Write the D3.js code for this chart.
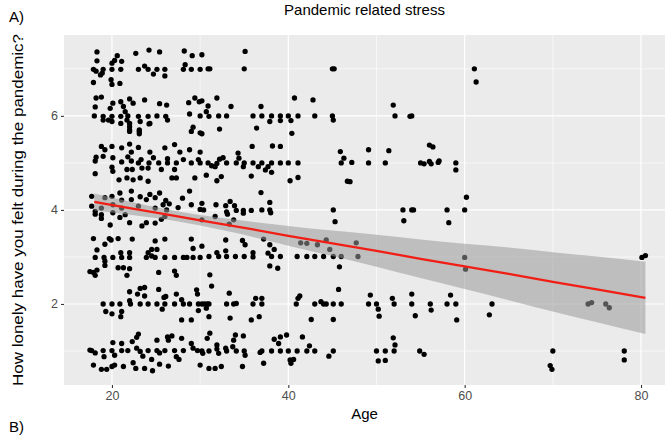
<!DOCTYPE html>
<html>
<head>
<meta charset="utf-8">
<script src="https://cdn.jsdelivr.net/npm/d3@7"></script>
<style>
  html, body { margin: 0; padding: 0; background: #fff; }
  svg { display: block; font-family: "Liberation Sans", Arial, sans-serif; }
</style>
</head>
<body>
<svg id="chart" width="667" height="436"></svg>
<script>
// Responses to "How lonely have you felt during the pandemic?" by age (jittered), grouped by answer level
const level7 = [[18.3,7.36],[18.3,7.17],[17.9,6.99],[18.2,6.95],[19.0,6.99],[18.9,6.91],[18.7,6.87],[20.0,6.99],[20.0,7.12],[20.3,7.18],[20.6,7.28],[21.1,7.16],[21.0,6.99],[19.9,6.77],[17.9,6.71],[20.9,6.69],[20.0,6.67],[22.7,7.33],[24.2,7.40],[25.4,7.36],[23.0,6.99],[23.7,7.06],[24.1,6.99],[24.7,6.89],[25.1,6.99],[26.0,6.99],[26.0,6.85],[28.2,7.38],[29.1,7.28],[30.2,7.30],[28.3,7.09],[28.1,6.99],[29.0,6.99],[30.0,6.99],[30.9,7.0],[31.1,7.0],[35.1,7.37],[35.0,7.0],[45.0,7.0],[45.2,7.0],[61.1,7.0],[61.3,6.72]];
const level6 = [[18.2,6.38],[18.8,6.40],[18.1,6.19],[18.0,6.0],[19.0,5.99],[19.0,5.91],[20.0,5.99],[20.0,5.88],[20.1,6.27],[19.8,6.16],[21.0,6.30],[21.3,6.20],[21.5,6.09],[22.0,6.36],[22.4,6.27],[21.0,5.99],[21.8,6.0],[22.0,5.84],[23.0,5.99],[23.2,5.88],[23.7,6.34],[24.1,5.99],[24.3,5.84],[25.4,6.26],[26.2,6.23],[25.1,6.0],[26.1,5.99],[26.3,5.91],[28.7,6.28],[29.4,6.38],[29.9,6.30],[28.8,6.04],[30.0,6.0],[29.2,5.76],[19.6,5.91],[22.0,5.70],[23.1,5.70],[23.1,5.62],[24.2,5.83],[21.0,5.84],[21.7,5.91],[22.0,5.77],[30.2,6.32],[30.9,6.21],[30.7,6.09],[31.0,5.99],[31.9,6.38],[32.1,6.0],[33.0,6.0],[33.5,6.20],[32.2,5.72],[30.2,5.62],[36.0,6.0],[36.9,6.20],[37.0,6.0],[36.4,5.74],[37.9,5.88],[38.1,6.0],[39.1,6.0],[39.1,5.90],[40.0,6.0],[40.3,5.90],[40.7,6.38],[41.1,6.0],[40.4,5.63],[42.8,6.34],[43.0,6.0],[45.0,6.0],[45.1,5.91],[51.9,6.23],[52.1,6.0],[53.8,5.99],[54.0,6.0],[22.0,5.67],[23.1,5.67],[29.0,5.67],[30.0,5.64]];
const level5 = [[18.8,5.35],[19.2,5.28],[20.0,5.35],[21.1,5.32],[22.0,5.40],[23.0,5.33],[22.2,5.23],[24.3,5.23],[26.0,5.32],[27.1,5.39],[27.7,5.23],[28.8,5.28],[30.0,5.23],[18.2,5.12],[18.1,5.04],[19.0,5.14],[20.1,5.11],[21.1,5.02],[21.8,5.13],[22.2,5.04],[23.0,5.0],[23.3,5.07],[24.2,5.0],[24.7,5.11],[25.3,5.0],[26.3,5.09],[26.3,5.0],[27.3,5.0],[28.1,5.07],[29.0,5.0],[29.8,5.07],[30.0,5.0],[20.0,4.91],[20.1,4.82],[21.7,4.86],[22.3,4.86],[23.4,4.89],[24.1,4.89],[25.6,4.86],[27.1,4.86],[18.1,4.77],[20.8,4.64],[21.7,4.68],[22.4,4.64],[23.2,4.68],[24.1,4.61],[26.8,4.68],[27.3,4.68],[29.4,4.68],[30.9,5.0],[31.3,4.94],[31.7,4.92],[31.9,4.99],[32.2,5.08],[32.6,5.11],[33.0,5.0],[34.1,5.0],[34.3,5.21],[34.4,5.10],[35.0,5.0],[34.9,4.92],[36.0,5.0],[36.6,4.92],[37.0,5.0],[37.4,4.85],[37.7,4.92],[38.1,5.0],[38.1,4.80],[38.2,5.36],[39.1,5.35],[39.1,5.0],[40.0,5.0],[41.1,5.0],[40.2,4.62],[41.1,4.69],[35.8,4.72],[35.9,5.35],[45.9,5.24],[46.3,5.10],[46.0,5.0],[47.2,5.01],[46.7,4.61],[30.7,4.74],[31.9,4.62],[32.4,4.71],[49.1,5.28],[49.1,5.0],[51.4,5.26],[51.0,5.0],[55.0,5.0],[55.4,4.98],[56.0,5.38],[56.4,5.34],[56.0,5.03],[56.2,4.98],[57.0,5.01],[57.1,5.04],[59.0,5.0],[59.0,4.85],[47.0,4.60]];
const level4 = [[17.7,4.29],[17.7,4.08],[18.1,3.97],[18.8,4.04],[19.2,4.26],[20.0,4.29],[20.1,4.11],[20.9,4.36],[21.1,4.04],[22.2,4.40],[22.2,4.22],[23.0,4.08],[23.9,4.22],[24.3,4.33],[24.9,4.26],[24.9,4.04],[25.4,4.36],[26.1,4.20],[26.5,4.13],[28.8,4.40],[29.0,4.11],[30.0,4.01],[18.8,3.90],[20.1,3.94],[21.5,3.90],[18.1,3.91],[18.8,3.82],[19.8,3.68],[22.0,3.73],[23.4,3.66],[23.9,3.73],[24.9,3.72],[26.0,3.86],[21.1,4.21],[23.2,4.28],[25.8,4.11],[26.2,4.0],[27.5,4.05],[28.0,4.25],[30.2,4.14],[30.4,4.0],[31.8,4.11],[31.7,3.86],[33.0,3.96],[33.1,3.91],[33.4,4.18],[33.9,4.09],[34.1,3.99],[34.9,3.99],[34.9,3.93],[35.8,3.99],[37.0,4.0],[37.9,4.0],[37.9,4.16],[38.0,3.94],[36.9,4.37],[33.8,3.79],[33.3,3.70],[45.1,4.0],[45.3,3.75],[30.2,3.79],[53.0,4.0],[54.0,4.0],[54.2,4.0],[53.1,3.77],[58.0,4.0],[58.2,3.73],[60.0,4.0],[60.2,4.27],[25.6,3.80],[20.9,3.84],[32.9,4.09]];
const level3 = [[17.9,3.39],[19.7,3.39],[19.9,3.36],[19.2,3.27],[20.7,3.39],[22.3,3.38],[18.3,3.15],[18.1,2.99],[19.1,2.99],[19.2,2.91],[20.1,2.99],[21.0,3.09],[21.1,2.99],[22.0,3.09],[22.0,2.99],[24.1,3.09],[23.9,2.99],[24.5,3.02],[24.9,2.99],[24.5,3.16],[24.9,3.34],[25.1,3.16],[26.0,3.38],[26.0,2.99],[27.1,2.99],[28.1,2.99],[28.5,2.99],[29.0,3.38],[29.2,3.18],[29.2,2.99],[30.0,2.99],[30.2,3.23],[17.9,2.67],[18.1,2.61],[18.3,2.72],[19.2,2.82],[20.7,2.77],[21.3,2.77],[22.0,2.75],[21.7,2.61],[25.3,2.67],[27.1,2.70],[27.3,2.61],[17.5,2.69],[31.0,3.01],[31.9,3.09],[32.1,3.01],[32.9,3.36],[32.9,3.13],[33.0,3.01],[34.0,3.01],[34.8,3.35],[35.1,3.26],[35.0,3.01],[36.0,3.09],[36.0,3.0],[37.2,3.38],[37.7,3.08],[37.9,3.26],[38.1,3.01],[38.4,3.16],[39.1,3.01],[37.9,2.81],[38.8,2.76],[41.0,3.01],[41.4,3.30],[42.1,3.29],[42.1,3.01],[43.0,3.01],[43.3,3.26],[44.0,3.01],[44.3,3.36],[44.7,3.16],[45.1,3.01],[45.8,2.79],[46.0,3.01],[47.7,3.30],[47.9,3.01],[31.1,2.62],[31.3,2.38],[60.0,2.99],[60.1,2.74],[80.1,2.99],[80.5,3.03]];
const level2 = [[22.0,2.26],[23.2,2.33],[23.7,2.35],[22.9,2.21],[23.7,2.17],[25.3,2.31],[26.1,2.16],[27.3,2.21],[29.6,2.30],[29.7,2.21],[19.0,2.0],[20.0,2.0],[20.0,1.79],[20.9,2.0],[21.1,1.84],[21.0,1.73],[22.0,2.07],[22.1,2.0],[23.2,2.0],[24.1,2.0],[25.1,2.0],[25.9,2.14],[26.0,2.0],[27.1,2.0],[27.9,2.09],[28.1,2.0],[27.9,1.66],[28.8,2.0],[29.8,2.0],[29.8,1.86],[30.5,2.0],[19.3,1.84],[25.7,1.89],[29.0,1.66],[30.2,2.0],[30.8,2.0],[31.0,2.0],[30.7,1.91],[31.0,1.73],[33.0,2.0],[33.3,2.23],[33.8,2.0],[34.1,2.01],[33.4,1.70],[36.0,2.0],[36.3,2.12],[37.0,2.12],[37.0,2.0],[35.8,1.66],[36.7,1.73],[40.9,2.0],[41.1,2.12],[41.3,2.17],[43.0,2.0],[43.7,2.05],[44.0,2.0],[44.3,2.0],[45.1,2.0],[46.0,2.0],[45.7,2.31],[42.6,1.67],[45.1,1.67],[49.1,2.0],[49.3,2.19],[50.0,2.0],[50.2,1.89],[50.3,1.74],[51.8,2.12],[52.0,2.0],[54.0,2.21],[54.0,2.0],[54.4,1.75],[56.1,2.0],[56.2,1.87],[58.0,2.0],[58.4,2.19],[59.0,2.0],[59.1,1.66],[62.8,1.77],[63.1,2.0],[74.0,2.0],[74.4,2.03],[76.0,2.0],[76.4,1.92]];
const level1 = [[17.7,1.01],[18.1,0.96],[19.0,1.01],[19.1,0.88],[20.1,1.18],[20.0,1.01],[20.3,0.91],[21.1,1.16],[21.1,1.01],[21.8,1.01],[22.3,1.20],[22.8,1.29],[23.0,1.36],[22.8,1.06],[23.2,0.99],[23.5,0.89],[24.1,1.01],[24.5,0.82],[25.1,1.23],[25.1,1.01],[25.4,0.96],[26.0,1.01],[26.3,1.30],[26.8,1.32],[26.4,1.23],[27.1,1.01],[27.3,0.88],[27.6,0.82],[27.9,1.27],[28.1,1.01],[29.0,1.16],[29.2,1.06],[29.7,1.01],[30.0,0.70],[17.9,0.70],[18.8,0.61],[19.4,0.61],[20.0,0.67],[20.3,0.70],[21.3,0.67],[22.4,0.75],[22.7,0.63],[23.7,0.63],[24.6,0.58],[25.4,0.72],[26.4,0.68],[17.5,1.02],[30.2,1.0],[30.3,0.95],[30.8,1.27],[31.1,1.38],[31.0,1.0],[31.0,0.63],[31.7,0.63],[31.9,1.13],[31.9,1.04],[32.1,0.95],[32.4,0.67],[32.9,1.06],[33.0,1.0],[33.8,1.23],[33.7,1.09],[34.0,1.34],[34.1,1.0],[34.9,1.32],[35.0,1.0],[35.1,0.91],[34.8,0.67],[36.8,0.97],[37.0,1.0],[37.2,0.74],[38.1,1.0],[38.4,1.25],[38.9,1.16],[39.1,1.30],[39.8,1.34],[39.1,1.0],[40.0,1.0],[40.2,0.81],[40.3,0.74],[40.6,0.82],[41.0,1.0],[41.6,1.30],[42.1,1.0],[42.4,1.11],[43.0,1.0],[44.6,0.89],[45.1,1.0],[50.0,1.0],[50.2,0.79],[51.0,1.0],[51.0,0.80],[51.9,1.28],[52.1,1.13],[52.0,1.0],[54.9,1.0],[55.4,0.93],[69.7,0.69],[69.9,0.61],[70.0,1.0],[78.1,1.0],[78.1,0.81]];

// Linear fit with its 95% confidence band
const fitAge   = [18, 22, 26, 30, 35, 40, 45, 50, 55, 60, 65, 70, 75, 80.5];
const fitValue = [4.17, 4.04, 3.91, 3.78, 3.62, 3.45, 3.29, 3.13, 2.96, 2.80, 2.64, 2.47, 2.31, 2.13];
const fitLower = [3.99, 3.90, 3.80, 3.67, 3.47, 3.24, 3.02, 2.79, 2.55, 2.32, 2.08, 1.84, 1.61, 1.36];
const fitUpper = [4.35, 4.18, 4.02, 3.89, 3.77, 3.66, 3.56, 3.47, 3.37, 3.28, 3.20, 3.10, 3.01, 2.90];

const xMajor = [20, 40, 60, 80];
const xMinor = [30, 50, 70];
const yMajor = [2, 4, 6];
const yMinor = [1, 3, 5, 7];

const svg = d3.select("#chart");
const panel = { left: 64, right: 665, top: 35, bottom: 385 };

const x = d3.scaleLinear().domain([14.56, 82.72]).range([panel.left, panel.right]);
const y = d3.scaleLinear().domain([0.277, 7.72]).range([panel.bottom, panel.top]);

// panel background
svg.append("rect")
  .attr("x", panel.left).attr("y", panel.top)
  .attr("width", panel.right - panel.left).attr("height", panel.bottom - panel.top)
  .attr("fill", "#ebebeb");

const grid = svg.append("g");
grid.selectAll("line.xmin").data(xMinor).join("line")
  .attr("x1", d => x(d)).attr("x2", d => x(d))
  .attr("y1", panel.top).attr("y2", panel.bottom)
  .attr("stroke", "#fff").attr("stroke-width", 0.6);
grid.selectAll("line.ymin").data(yMinor).join("line")
  .attr("y1", d => y(d)).attr("y2", d => y(d))
  .attr("x1", panel.left).attr("x2", panel.right)
  .attr("stroke", "#fff").attr("stroke-width", 0.6);
grid.selectAll("line.xmaj").data(xMajor).join("line")
  .attr("x1", d => x(d)).attr("x2", d => x(d))
  .attr("y1", panel.top).attr("y2", panel.bottom)
  .attr("stroke", "#fff").attr("stroke-width", 1.2);
grid.selectAll("line.ymaj").data(yMajor).join("line")
  .attr("y1", d => y(d)).attr("y2", d => y(d))
  .attr("x1", panel.left).attr("x2", panel.right)
  .attr("stroke", "#fff").attr("stroke-width", 1.2);

// points
const allPoints = [].concat(level7, level6, level5, level4, level3, level2, level1);
svg.append("g").selectAll("circle").data(allPoints).join("circle")
  .attr("cx", d => x(d[0])).attr("cy", d => y(d[1]))
  .attr("r", 2.65).attr("fill", "#000");

// confidence band and fitted line
const fit = fitAge.map((a, i) => ({ a, v: fitValue[i], lo: fitLower[i], hi: fitUpper[i] }));
svg.append("path").datum(fit)
  .attr("d", d3.area().x(d => x(d.a)).y0(d => y(d.lo)).y1(d => y(d.hi)).curve(d3.curveMonotoneX))
  .attr("fill", "#999999").attr("fill-opacity", 0.55);
svg.append("path").datum(fit)
  .attr("d", d3.line().x(d => x(d.a)).y(d => y(d.v)))
  .attr("fill", "none").attr("stroke", "#f01e14").attr("stroke-width", 2.3);

// axes
const xAxis = svg.append("g").attr("transform", `translate(0,${panel.bottom})`)
  .call(d3.axisBottom(x).tickValues(xMajor).tickSize(3).tickPadding(3));
const yAxis = svg.append("g").attr("transform", `translate(${panel.left},0)`)
  .call(d3.axisLeft(y).tickValues(yMajor).tickSize(3).tickPadding(3));
[xAxis, yAxis].forEach(g => {
  g.select(".domain").remove();
  g.selectAll(".tick line").attr("stroke", "#333").attr("stroke-width", 1.1);
  g.selectAll(".tick text").attr("fill", "#4d4d4d").style("font-size", "12.5px")
    .style("font-family", "'Liberation Sans', Arial, sans-serif");
});

// titles
svg.append("text").attr("x", (panel.left + panel.right) / 2).attr("y", 15)
  .attr("text-anchor", "middle").style("font-size", "15px").attr("fill", "#000")
  .text("Pandemic related stress");
svg.append("text").attr("x", (panel.left + panel.right) / 2).attr("y", 419)
  .attr("text-anchor", "middle").style("font-size", "15px").attr("fill", "#000")
  .text("Age");
svg.append("text")
  .attr("transform", `translate(23,${(panel.top + panel.bottom) / 2}) rotate(-90)`)
  .attr("text-anchor", "middle").style("font-size", "15px").attr("fill", "#000")
  .attr("textLength", 352).attr("lengthAdjust", "spacingAndGlyphs")
  .text("How lonely have you felt during the pandemic?");
svg.append("text").attr("x", 9).attr("y", 22).style("font-size", "15px").attr("fill", "#000").text("A)");
svg.append("text").attr("x", 9).attr("y", 432).style("font-size", "15px").attr("fill", "#000").text("B)");
</script>
</body>
</html>
